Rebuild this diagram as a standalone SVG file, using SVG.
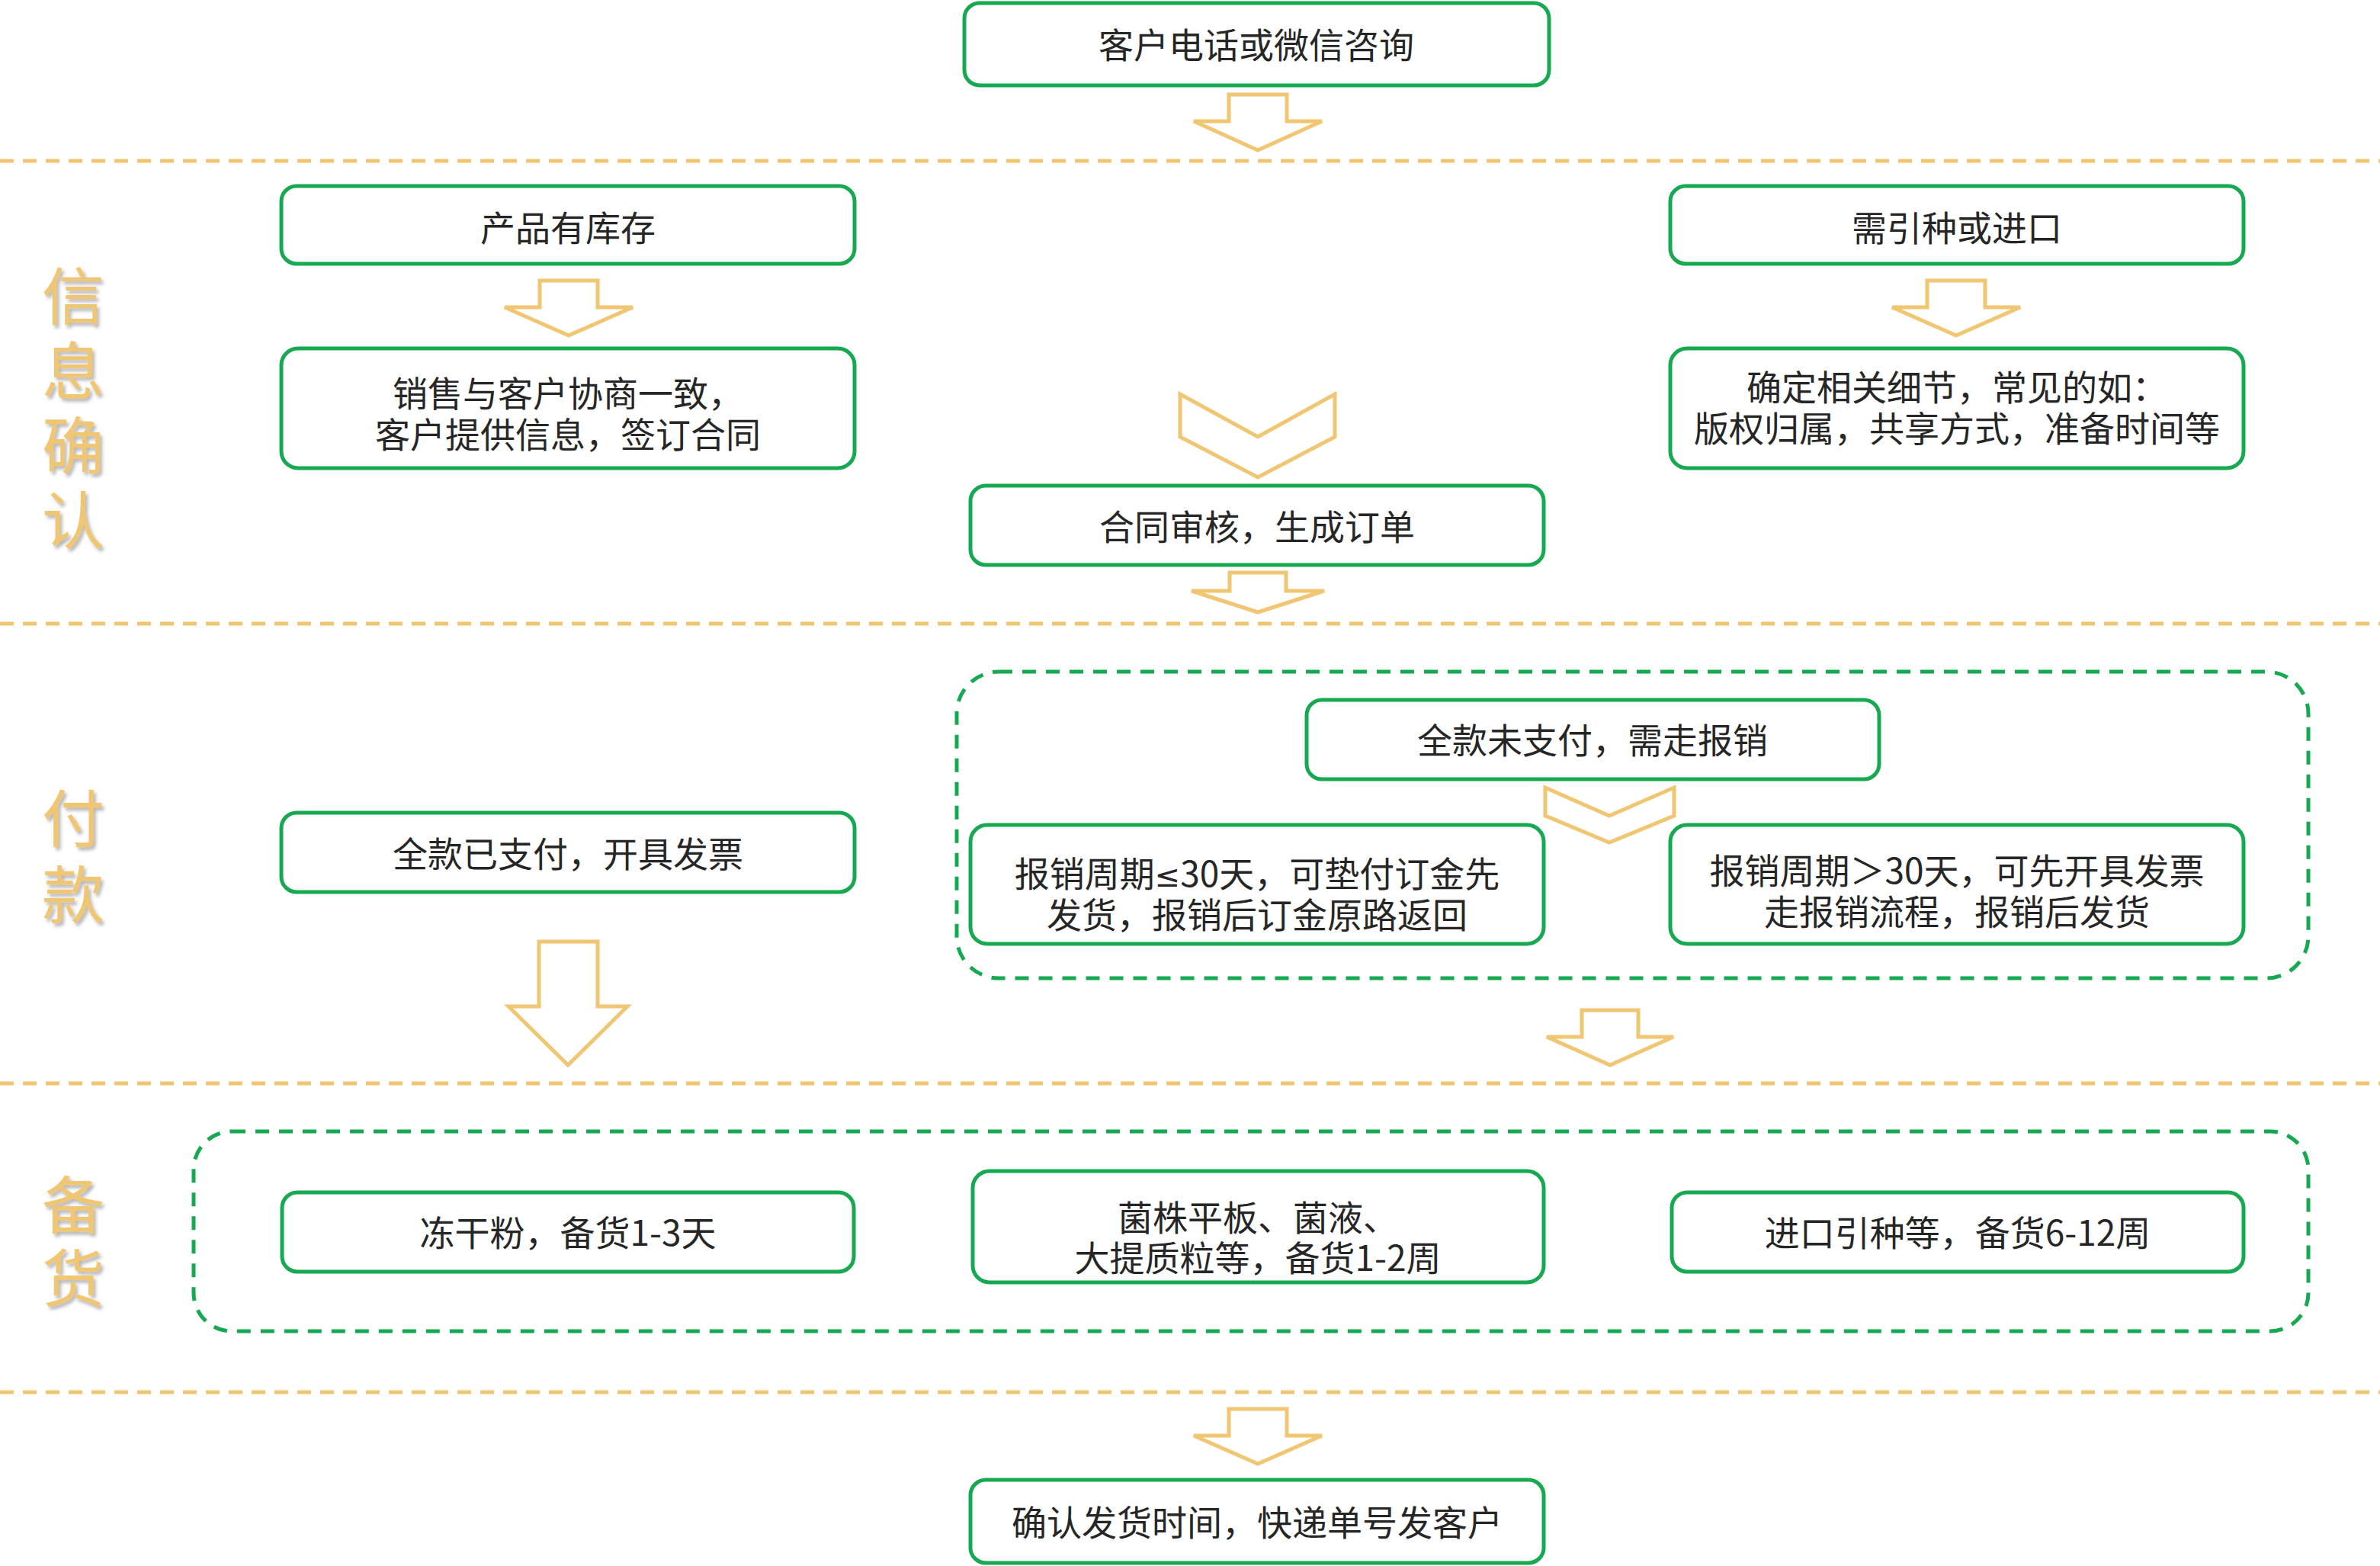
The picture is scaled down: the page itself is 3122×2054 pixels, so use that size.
<svg xmlns="http://www.w3.org/2000/svg" width="3122" height="2054" viewBox="0 0 3122 2054">
<defs>
<style>
.box{fill:#fff;stroke:#16A951;stroke-width:5}
.grp{fill:none;stroke:#16A951;stroke-width:5;stroke-dasharray:18 13}
.sep{fill:none;stroke:#F0C672;stroke-width:5;stroke-dasharray:18 12}
.arr{fill:#fff;stroke:#F0C672;stroke-width:5;stroke-linejoin:miter}
.t{font-family:"Noto Sans CJK SC","Noto Sans",sans-serif;font-size:46px;fill:#262626;text-anchor:middle}
.lat{font-family:"DejaVu Sans",sans-serif;font-size:40px}
.lbl{font-family:"Noto Sans CJK SC","Noto Sans",sans-serif;font-size:82px;fill:#F0C672;text-anchor:middle;filter:url(#sh)}
</style>
<filter id="sh" x="-20%" y="-20%" width="150%" height="150%">
<feDropShadow dx="3" dy="4" stdDeviation="2" flood-color="#7a7a7a" flood-opacity="0.55"/>
</filter>
</defs>
<rect width="3122" height="2054" fill="#fff"/>
<g id="separators">
<line class="sep" x1="0" y1="211" x2="3122" y2="211"/>
<line class="sep" x1="0" y1="818" x2="3122" y2="818"/>
<line class="sep" x1="0" y1="1421" x2="3122" y2="1421"/>
<line class="sep" x1="0" y1="1826" x2="3122" y2="1826"/>
</g>
<g id="labels">
<text class="lbl" x="96" y="419">信</text>
<text class="lbl" x="96" y="517">息</text>
<text class="lbl" x="96" y="615">确</text>
<text class="lbl" x="96" y="713">认</text>
<text class="lbl" x="96" y="1104">付</text>
<text class="lbl" x="96" y="1204">款</text>
<text class="lbl" x="96" y="1611">备</text>
<text class="lbl" x="96" y="1707">货</text>
</g>
<g id="groups">
<rect id="pay-group" class="grp" x="1255" y="881" width="1773" height="402" rx="55"/>
<rect id="stock-group" class="grp" x="254" y="1484" width="2774" height="262" rx="50"/>
</g>
<g id="connectors">
<path class="arr" d="M1612,124 H1688 V159 H1734 L1650,197 L1566,159 H1612 Z"/>
<path class="arr" d="M708,368 H784 V403 H830 L746,440 L662,403 H708 Z"/>
<path class="arr" d="M2528,368 H2604 V403 H2650 L2566,440 L2482,403 H2528 Z"/>
<path class="arr" d="M1548,517 L1650,573 L1751,517 L1751,573 L1650,626 L1548,573 Z"/>
<path class="arr" d="M1613,751 H1687 V775 H1737 L1650,803 L1563,775 H1613 Z"/>
<path class="arr" d="M2027,1033 L2111,1070 L2196,1033 L2196,1070 L2111,1105 L2027,1070 Z"/>
<path class="arr" d="M707,1235 H784 V1320 H823 L745,1397 L667,1320 H707 Z"/>
<path class="arr" d="M2075,1325 H2149 V1360 H2195 L2112,1397 L2029,1360 H2075 Z"/>
<path class="arr" d="M1612,1848 H1688 V1883 H1734 L1650,1920 L1566,1883 H1612 Z"/>
</g>
<g id="n-consult"><rect class="box" x="1265" y="4" width="767" height="108" rx="20"/><text class="t" x="1648" y="76">客户电话或微信咨询</text></g>
<g id="n-stock"><rect class="box" x="369" y="244" width="752" height="102" rx="20"/><text class="t" x="745" y="316">产品有库存</text></g>
<g id="n-import"><rect class="box" x="2191" y="244" width="752" height="102" rx="20"/><text class="t" x="2567" y="316">需引种或进口</text></g>
<g id="n-negotiate"><rect class="box" x="369" y="457" width="752" height="157" rx="22"/><text class="t" x="745" y="533">销售与客户协商一致，</text><text class="t" x="745" y="587">客户提供信息，签订合同</text></g>
<g id="n-details"><rect class="box" x="2191" y="457" width="752" height="157" rx="22"/><text class="t" x="2567" y="525">确定相关细节，常见的如：</text><text class="t" x="2567" y="579">版权归属，共享方式，准备时间等</text></g>
<g id="n-review"><rect class="box" x="1273" y="637" width="752" height="104" rx="20"/><text class="t" x="1649" y="708">合同审核，生成订单</text></g>
<g id="n-unpaid"><rect class="box" x="1714" y="918" width="751" height="104" rx="20"/><text class="t" x="2089" y="988">全款未支付，需走报销</text></g>
<g id="n-le30"><rect class="box" x="1273" y="1082" width="752" height="156" rx="22"/><text class="t" x="1649" y="1163">报销周期<tspan class="lat">≤</tspan>30天，可垫付订金先</text><text class="t" x="1649" y="1217">发货，报销后订金原路返回</text></g>
<g id="n-gt30"><rect class="box" x="2191" y="1082" width="752" height="156" rx="22"/><text class="t" x="2567" y="1159">报销周期＞30天，可先开具发票</text><text class="t" x="2567" y="1213">走报销流程，报销后发货</text></g>
<g id="n-paid"><rect class="box" x="369" y="1066" width="752" height="104" rx="20"/><text class="t" x="745" y="1137">全款已支付，开具发票</text></g>
<g id="n-powder"><rect class="box" x="370" y="1564" width="750" height="104" rx="20"/><text class="t" x="745" y="1634">冻干粉，备货1-3天</text></g>
<g id="n-plate"><rect class="box" x="1276" y="1536" width="749" height="146" rx="22"/><text class="t" x="1650" y="1614">菌株平板、菌液、</text><text class="t" x="1650" y="1667">大提质粒等，备货1-2周</text></g>
<g id="n-importstock"><rect class="box" x="2193" y="1564" width="750" height="104" rx="20"/><text class="t" x="2568" y="1634">进口引种等，备货6-12周</text></g>
<g id="n-ship"><rect class="box" x="1273" y="1941" width="752" height="109" rx="20"/><text class="t" x="1649" y="2014">确认发货时间，快递单号发客户</text></g>
</svg>
